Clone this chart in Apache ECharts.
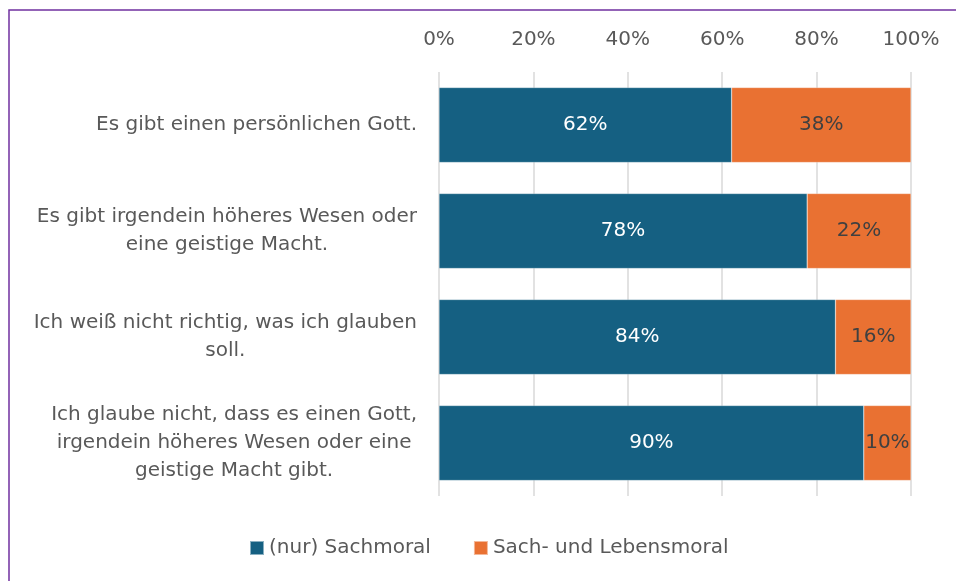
<!DOCTYPE html>
<html><head><meta charset="utf-8">
<script src="https://cdn.jsdelivr.net/npm/echarts@6/dist/echarts.min.js"></script>
<style>html,body{margin:0;padding:0;background:#fff}#c{width:956px;height:581px}</style>
</head><body><div id="c"></div>
<script>
const categories = [
  'Es gibt einen persönlichen Gott.',
  'Es gibt irgendein höheres Wesen oder\neine geistige Macht.',
  'Ich weiß nicht richtig, was ich glauben\nsoll.',
  'Ich glaube nicht, dass es einen Gott,\nirgendein höheres Wesen oder eine\ngeistige Macht gibt.'
];
const seriesNames = ['(nur) Sachmoral', 'Sach- und Lebensmoral'];
const sachmoral = [62, 78, 84, 90];
const lebensmoral = [38, 22, 16, 10];
const xTicks = [0, 20, 40, 60, 80, 100];

const FONT = 'DejaVu Sans';
const chart = echarts.init(document.getElementById('c'), null, {renderer: 'canvas'});
chart.setOption({
  animation: false,
  textStyle: {fontFamily: FONT},
  graphic: [{
    type: 'rect', silent: true,
    shape: {x: 9, y: 10, width: 1200, height: 1200},
    style: {fill: 'none', stroke: '#7030A0', lineWidth: 1.5}
  }],
  grid: {left: 439, right: 45, top: 72, bottom: 85, containLabel: false},
  legend: {
    data: seriesNames,
    bottom: 23, left: 249, padding: 0,
    icon: 'rect', itemWidth: 14, itemHeight: 14, itemGap: 42,
    textStyle: {color: '#595959', fontSize: 20, fontFamily: FONT}
  },
  xAxis: {
    type: 'value', position: 'top', min: xTicks[0], max: xTicks[xTicks.length - 1], interval: 20,
    axisLine: {show: false}, axisTick: {show: false},
    splitLine: {show: true, lineStyle: {color: '#d9d9d9', width: 1.5}},
    axisLabel: {formatter: v => v + '%', color: '#595959', fontSize: 20, margin: 22, fontFamily: FONT}
  },
  yAxis: {
    type: 'category', data: categories, inverse: true,
    axisLine: {show: false}, axisTick: {show: false},
    axisLabel: {
      margin: 22, color: '#595959', fontSize: 20, fontFamily: FONT, lineHeight: 28,
      formatter: v => v.split('\n').map(l => '{c|' + l + '}').join('\n'),
      rich: {c: {align: 'center', color: '#595959', fontSize: 20, fontFamily: FONT, lineHeight: 28}}
    }
  },
  series: [
    {
      name: seriesNames[0], type: 'bar', stack: 'total', data: sachmoral, barWidth: 75,
      itemStyle: {color: '#156082', borderColor: 'rgba(255,255,255,0.5)', borderWidth: 0.5},
      label: {show: true, position: 'inside', formatter: p => p.value + '%', color: '#ffffff', fontSize: 20, fontFamily: FONT}
    },
    {
      name: seriesNames[1], type: 'bar', stack: 'total', data: lebensmoral, barWidth: 75,
      itemStyle: {color: '#E97132', borderColor: 'rgba(255,255,255,0.5)', borderWidth: 0.5},
      label: {show: true, position: 'inside', formatter: p => p.value + '%', color: '#404040', fontSize: 20, fontFamily: FONT}
    }
  ]
});
</script></body></html>
